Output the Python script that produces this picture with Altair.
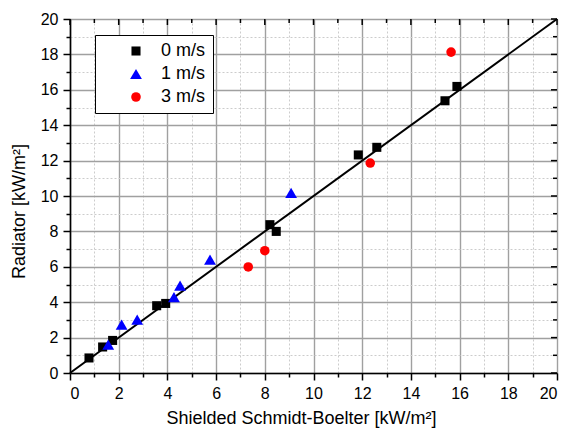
import altair as alt
import pandas as pd

# ---- data ----
s0_x = [0.78, 1.34, 1.75, 3.56, 3.93, 8.21, 8.47, 11.84, 12.60, 15.40, 15.89]
s0_y = [0.85, 1.47, 1.84, 3.80, 3.93, 8.38, 8.00, 12.32, 12.75, 15.38, 16.19]
s1_x = [1.57, 2.12, 2.76, 4.27, 4.52, 5.75, 9.08]
s1_y = [1.60, 2.73, 3.01, 4.29, 4.93, 6.40, 10.17]
s3_x = [7.32, 8.00, 12.33, 15.65]
s3_y = [5.99, 6.91, 11.86, 18.13]
series_names = ["0 m/s", "1 m/s", "3 m/s"]
line_x = [0, 20]
line_y = [0, 20]
major_ticks = list(range(0, 21, 2))
minor_ticks = list(range(1, 20, 2))
all_ticks = list(range(0, 21))

rows = []
for name, xs, ys in zip(series_names, [s0_x, s1_x, s3_x], [s0_y, s1_y, s3_y]):
    for a, b in zip(xs, ys):
        rows.append({"x": a, "y": b, "series": name})
pts = pd.DataFrame(rows)
line_df = pd.DataFrame({"x": line_x, "y": line_y})

W, H = 487, 354
FONT = "Liberation Sans"

odd = "datum.value % 2 == 1"
axis_kw = dict(
    values=all_ticks,
    labelExpr="datum.value % 2 == 0 ? datum.label : ''",
    grid=True,
    gridColor={"condition": {"test": odd, "value": "#cccccc"}, "value": "#a0a0a0"},
    gridDash={"condition": {"test": odd, "value": [2, 2]}, "value": []},
    gridWidth={"condition": {"test": odd, "value": 1}, "value": 1.4},
    tickSize={"condition": {"test": odd, "value": 4}, "value": 7},
    tickColor="black",
    tickWidth=1.5,
    domainColor="black",
    domainWidth=1.6,
    labelFont=FONT,
    labelFontSize=16,
    labelColor="black",
    labelPadding=5,
    titleFont=FONT,
    titleFontSize=18,
    titleFontWeight="normal",
    titleColor="black",
)

xscale = alt.Scale(domain=[0, 20], nice=False, zero=False)
yscale = alt.Scale(domain=[0, 20], nice=False, zero=False)
X = alt.X("x:Q", scale=xscale,
          axis=alt.Axis(title="Shielded Schmidt-Boelter [kW/m²]", titlePadding=8,
                        titleX=231, titleAnchor="start", titleAlign="center", **axis_kw))
Y = alt.Y("y:Q", scale=yscale,
          axis=alt.Axis(title="Radiator [kW/m²]", titlePadding=12,
                        titleY=192, titleAlign="center", **axis_kw))

line = alt.Chart(line_df).mark_line(color="black", strokeWidth=2).encode(x=X, y=Y)

points = alt.Chart(pts).mark_point(filled=True, opacity=1, strokeWidth=0).encode(
    x=X, y=Y,
    color=alt.Color("series:N", scale=alt.Scale(domain=series_names,
                                                range=["#000000", "#0000ff", "#ff0000"]),
                    legend=alt.Legend(title=None, orient="none", legendX=25, legendY=16,
                                      fillColor="white", strokeColor="black",
                                      padding=7, rowPadding=5, symbolOffset=25,
                                      labelOffset=16, labelFont=FONT, labelFontSize=18,
                                      labelColor="black", symbolSize=95,
                                      symbolStrokeWidth=0)),
    shape=alt.Shape("series:N", scale=alt.Scale(domain=series_names,
                                                range=["square", "triangle-up", "circle"])),
    size=alt.Size("series:N", scale=alt.Scale(type="ordinal", domain=series_names,
                                              range=[82, 140, 92]),
                  legend=None),
)

top_major = alt.Chart(pd.DataFrame({"x": major_ticks})).mark_rule(
    color="black", strokeWidth=1.5).encode(x=X, y=alt.value(0), y2=alt.value(6))
top_minor = alt.Chart(pd.DataFrame({"x": minor_ticks})).mark_rule(
    color="black", strokeWidth=1.5).encode(x=X, y=alt.value(0), y2=alt.value(4))
right_major = alt.Chart(pd.DataFrame({"y": major_ticks})).mark_rule(
    color="black", strokeWidth=1.5).encode(y=Y, x=alt.value(W), x2=alt.value(W - 6))
right_minor = alt.Chart(pd.DataFrame({"y": minor_ticks})).mark_rule(
    color="black", strokeWidth=1.5).encode(y=Y, x=alt.value(W), x2=alt.value(W - 4))

chart = alt.layer(line, top_major, top_minor, right_major, right_minor, points).properties(
    width=W, height=H,
    autosize=alt.AutoSizeParams(type="none"),
    padding={"left": 70, "top": 19, "right": 10, "bottom": 60},
).configure_view(stroke="black", strokeWidth=1.6).configure(background="white")

chart.save("out.html", embed_options={"renderer": "svg", "actions": False})
